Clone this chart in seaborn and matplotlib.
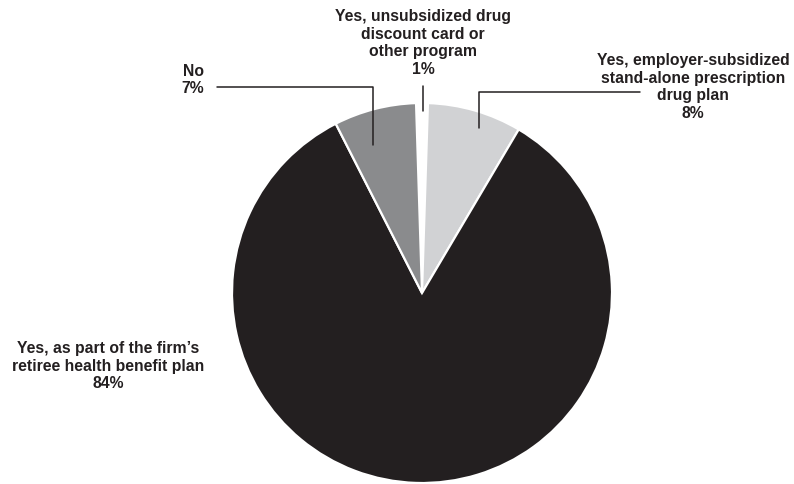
import matplotlib
matplotlib.use("Agg")
import matplotlib.pyplot as plt
import seaborn as sns

# 退職者向け処方薬給付の内訳（%）
categories = [
    "Yes, unsubsidized drug\ndiscount card or\nother program",
    "Yes, employer-subsidized\nstand-alone prescription\ndrug plan",
    "Yes, as part of the firm\u2019s\nretiree health benefit plan",
    "No",
]
shares = [1, 8, 84, 7]
colors = ["#ffffff", "#d1d2d4", "#231f20", "#8a8b8d"]

sns.set_theme(style="white")
plt.rcParams['font.family'] = ['Liberation Sans', 'DejaVu Sans']

W, H = 794, 484
fig = plt.figure(figsize=(W / 100, H / 100), dpi=100)
ax = fig.add_axes([0, 0, 1, 1])

cx, cy, r = 422, H - 293, 190
start = 90 + shares[0] * 3.6 / 2  # 1%スライスを真上に置く
ax.pie(
    shares,
    colors=colors,
    startangle=start,
    counterclock=False,
    center=(cx, cy),
    radius=r,
    wedgeprops=dict(edgecolor="white", linewidth=1.6),
    frame=True,
)
ax.set_xlim(0, W)
ax.set_ylim(0, H)
ax.set_aspect("equal")
ax.axis("off")

txt = dict(fontsize=11.3, fontweight="bold", color="#231f20",
           ha="center", va="center", linespacing=1.24)

def lbl(i, x, y):
    ax.text(x, H - y, f"{categories[i]}\n{shares[i]}%", **txt)

lbl(0, 423, 43)
lbl(1, 693, 87)
lbl(2, 108, 366)
lbl(3, 193, 80)

# リーダー線
lc = dict(color="#231f20", linewidth=1.1)
ax.plot([217, 373, 373], [H - 87, H - 87, H - 145], **lc)
ax.plot([423, 423], [H - 86, H - 111], **lc)
ax.plot([640, 479, 479], [H - 92, H - 92, H - 128], **lc)

fig.savefig("out.png", dpi=100)
plt.close(fig)
